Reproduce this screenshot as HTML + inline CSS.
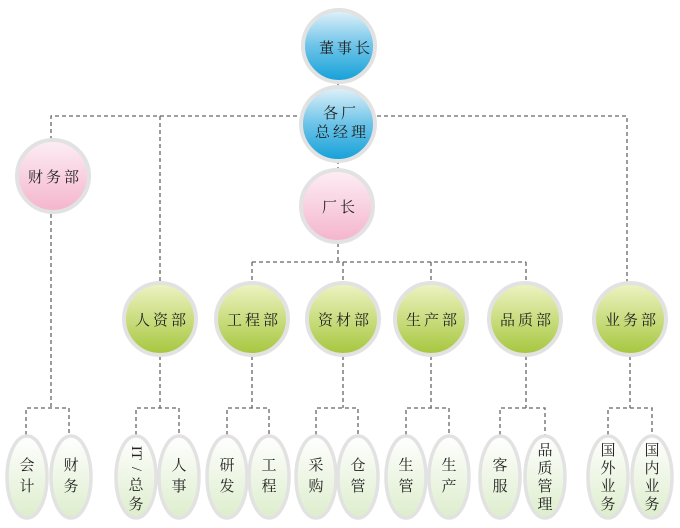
<!DOCTYPE html>
<html><head><meta charset="utf-8"><style>
html,body{margin:0;padding:0;background:#fff;}
svg{display:block;}
text{font-family:"Liberation Serif","Noto Serif CJK SC",serif;fill:#222;font-size:15px;}
</style></head><body>
<svg width="680" height="528" viewBox="0 0 680 528" xmlns="http://www.w3.org/2000/svg">
<defs>
<linearGradient id="blue" x1="0" y1="0" x2="0" y2="1"><stop offset="0" stop-color="#e2f2fa"/><stop offset="0.5" stop-color="#6cc3e8"/><stop offset="1" stop-color="#12a0d8"/></linearGradient>
<linearGradient id="pink" x1="0" y1="0" x2="0" y2="1"><stop offset="0" stop-color="#fdeef4"/><stop offset="1" stop-color="#f4b4cc"/></linearGradient>
<linearGradient id="green" x1="0" y1="0" x2="0" y2="1"><stop offset="0" stop-color="#eef4c4"/><stop offset="1" stop-color="#a6c63c"/></linearGradient>
<linearGradient id="leaf" x1="0" y1="0" x2="0" y2="1"><stop offset="0" stop-color="#ffffff"/><stop offset="1" stop-color="#ddedcc"/></linearGradient>
</defs>
<g stroke="#666" stroke-width="1.3" stroke-dasharray="4,3" fill="none">
<path d="M338 84V88M51 140V116H627V284M160 116V282M338 160V170M338 243V262M252 262H526M252 262V282M343 262V282M431 262V282M526 262V282"/>
<path d="M51 214V408M26 435V408H69V435"/>
<path d="M160 356V408M136 435V408H179V435"/>
<path d="M252 356V408M227 435V408H269V435"/>
<path d="M343 356V408M316 435V408H358V435"/>
<path d="M431 356V408M406 435V408H449V435"/>
<path d="M526 356V408M500 435V408H545V435"/>
<path d="M630 356V408M608 435V408H652V435"/>
</g>
<g stroke="#e2e2e2" stroke-width="4">
<circle cx="339" cy="46" r="36" fill="url(#blue)"/>
<circle cx="338" cy="124" r="37" fill="url(#blue)"/>
<circle cx="53" cy="176" r="36" fill="url(#pink)"/>
<circle cx="337" cy="206" r="36" fill="url(#pink)"/>
<circle cx="160" cy="319" r="36" fill="url(#green)"/>
<circle cx="252" cy="319" r="36" fill="url(#green)"/>
<circle cx="343" cy="319" r="36" fill="url(#green)"/>
<circle cx="431" cy="319" r="36" fill="url(#green)"/>
<circle cx="525" cy="319" r="36" fill="url(#green)"/>
<circle cx="630" cy="319" r="36" fill="url(#green)"/>
<g fill="url(#leaf)" stroke-width="3.5">
<ellipse cx="27" cy="477" rx="20" ry="41"/>
<ellipse cx="71" cy="477" rx="20" ry="41"/>
<ellipse cx="136" cy="477" rx="20" ry="41"/>
<ellipse cx="179" cy="477" rx="20" ry="41"/>
<ellipse cx="227" cy="477" rx="20" ry="41"/>
<ellipse cx="269" cy="477" rx="20" ry="41"/>
<ellipse cx="316" cy="477" rx="20" ry="41"/>
<ellipse cx="358" cy="477" rx="20" ry="41"/>
<ellipse cx="406" cy="477" rx="20" ry="41"/>
<ellipse cx="449" cy="477" rx="20" ry="41"/>
<ellipse cx="500" cy="477" rx="20" ry="41"/>
<ellipse cx="545" cy="477" rx="20" ry="41"/>
<ellipse cx="608" cy="477" rx="20" ry="41"/>
<ellipse cx="652" cy="477" rx="20" ry="41"/>
</g>
</g>
<g text-anchor="middle" letter-spacing="3">
<text x="346" y="53">董事长</text>
<text x="341" y="118">各厂</text>
<text x="342" y="137">总经理</text>
<text x="55" y="182">财务部</text>
<text x="340" y="212">厂长</text>
<text x="162" y="325">人资部</text>
<text x="254" y="325">工程部</text>
<text x="345" y="325">资材部</text>
<text x="433" y="325">生产部</text>
<text x="527" y="325">品质部</text>
<text x="632" y="325">业务部</text>
</g>
<g text-anchor="middle">
<text x="27" y="470">会</text><text x="27" y="491">计</text>
<text x="71" y="470">财</text><text x="71" y="491">务</text>
<text x="136" y="453" font-size="14" transform="rotate(90 136 453)" dominant-baseline="central">IT</text>
<text x="136" y="469" font-size="13" transform="rotate(90 136 469)" dominant-baseline="central">/</text>
<text x="136" y="490">总</text><text x="136" y="509">务</text>
<text x="179" y="470">人</text><text x="179" y="491">事</text>
<text x="227" y="470">研</text><text x="227" y="491">发</text>
<text x="269" y="470">工</text><text x="269" y="491">程</text>
<text x="316" y="470">采</text><text x="316" y="491">购</text>
<text x="358" y="470">仓</text><text x="358" y="491">管</text>
<text x="406" y="470">生</text><text x="406" y="491">管</text>
<text x="449" y="470">生</text><text x="449" y="491">产</text>
<text x="500" y="470">客</text><text x="500" y="491">服</text>
<text x="545" y="455">品</text><text x="545" y="473">质</text><text x="545" y="491">管</text><text x="545" y="509">理</text>
<text x="608" y="455">国</text><text x="608" y="473">外</text><text x="608" y="491">业</text><text x="608" y="509">务</text>
<text x="652" y="455">国</text><text x="652" y="473">内</text><text x="652" y="491">业</text><text x="652" y="509">务</text>
</g>
</svg>
</body></html>
